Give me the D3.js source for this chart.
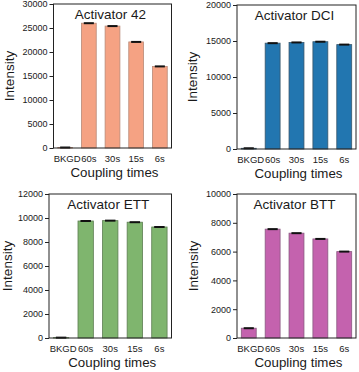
<!DOCTYPE html>
<html><head><meta charset="utf-8">
<script src="https://cdn.jsdelivr.net/npm/d3@7"></script>
<style>body{margin:0;background:#fff}svg{display:block}text{font-family:"Liberation Sans",Arial,sans-serif;fill:#1a1a1a}</style>
</head><body>
<svg id="c" width="359" height="372"></svg>
<script>
const categories = ["BKGD","60s","30s","15s","6s"];
const titles = ["Activator 42","Activator DCI","Activator ETT","Activator BTT"];
const values42  = [100, 26000, 25400, 22100, 17000];
const valuesDCI = [100, 14700, 14800, 14900, 14500];
const valuesETT = [30, 9750, 9780, 9650, 9250];
const valuesBTT = [680, 7560, 7280, 6880, 6000];
const err42  = [40, 140, 120, 100, 90];
const errDCI = [40, 110, 100, 100, 80];
const errETT = [20, 70, 60, 60, 50];
const errBTT = [20, 60, 40, 40, 40];
const yMax = [30000, 20000, 12000, 10000];
const yStep = [5000, 5000, 2000, 2000];
const colors = ["#f5a283", "#2276b0", "#7fb56e", "#c462ae"];
const strokes = ["#b88a78", "#38566b", "#5d7d52", "#8a5a80"];

const panels = [
  {L:53.5, R:171.5, T:4,   B:148, yt:13.5,  v:values42,  e:err42},
  {L:237,  R:356,   T:5,   B:149, yt:197,   v:valuesDCI, e:errDCI},
  {L:49,   R:171.5, T:194, B:338, yt:12,    v:valuesETT, e:errETT},
  {L:237,  R:356,   T:194, B:338, yt:197.5, v:valuesBTT, e:errBTT}
];
const svg = d3.select("#c");
panels.forEach((p,i)=>{
  const g = svg.append("g");
  const x = d3.scaleBand().domain(categories).range([p.L, p.R]).paddingInner(0.375).paddingOuter(0.18);
  const y = d3.scaleLinear().domain([0, yMax[i]]).range([p.B, p.T]);
  g.selectAll("rect.bar").data(p.v).join("rect").attr("class","bar")
    .attr("x",(d,j)=>x(categories[j])).attr("width",x.bandwidth())
    .attr("y",d=>y(d)).attr("height",d=>p.B-y(d))
    .attr("fill",colors[i]).attr("stroke",strokes[i]).attr("stroke-width",0.8);
  const cw = x.bandwidth()*0.68;
  p.v.forEach((d,j)=>{
    const cx = x(categories[j])+x.bandwidth()/2;
    const e = p.e[j];
    g.append("rect").attr("x",cx-cw/2).attr("width",cw)
      .attr("y",Math.min(y(d+e), y(d)-1)).attr("height",Math.max(y(d-e)-y(d+e),2))
      .attr("fill","#111");
  });
  const ya = d3.axisLeft(y).tickValues(d3.range(0, yMax[i]+1, yStep[i])).tickSize(4).tickPadding(2).tickFormat(d3.format("d"));
  const ag = g.append("g").attr("transform",`translate(${p.L},0)`).call(ya);
  ag.select(".domain").remove();
  ag.selectAll("line").attr("stroke","#222");
  ag.selectAll("text").style("font-size","9px").attr("fill","#222").style("font-family","Liberation Sans, Arial, sans-serif");
  g.append("rect").attr("x",p.L).attr("y",p.T).attr("width",p.R-p.L).attr("height",p.B-p.T)
    .attr("fill","none").attr("stroke","#222").attr("stroke-width",1);
  g.selectAll("text.xl").data(categories).join("text").attr("class","xl")
    .attr("x",d=>x(d)+x.bandwidth()/2 + (d==="BKGD"?2:0)).attr("y",p.B+14)
    .attr("text-anchor","middle").style("font-size","9.5px").text(d=>d);
  g.append("text").attr("x",(p.L+p.R)/2-2).attr("y",p.T+14.5).attr("text-anchor","middle")
    .style("font-size","13.5px").text(titles[i]);
  g.append("text").attr("x",(p.L+p.R)/2+2).attr("y",p.B+29).attr("text-anchor","middle")
    .style("font-size","13.3px").text("Coupling times");
  g.append("text").attr("transform",`translate(${p.yt},${(p.T+p.B)/2}) rotate(-90)`)
    .attr("text-anchor","middle").style("font-size","13.5px").text("Intensity");
});
</script>
</body></html>
